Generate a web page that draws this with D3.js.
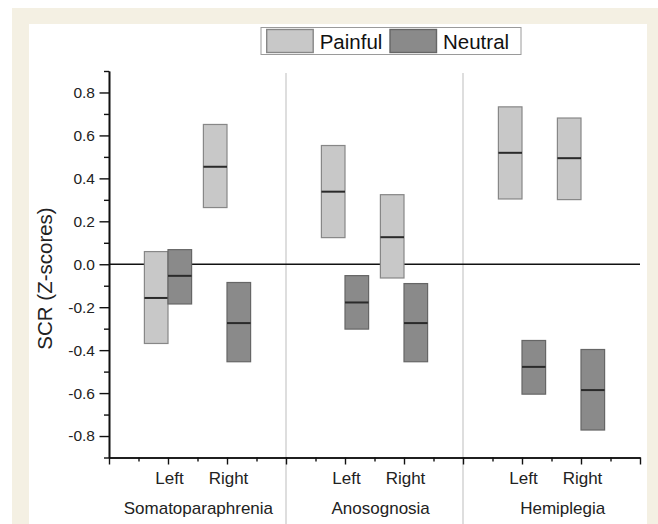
<!DOCTYPE html>
<html>
<head>
<meta charset="utf-8">
<script src="https://cdn.jsdelivr.net/npm/d3@7"></script>
<style>
  html, body { margin: 0; padding: 0; background: #ffffff; }
  svg { display: block; font-family: "Liberation Sans", Arial, sans-serif; }
</style>
</head>
<body>
<svg id="chart" width="658" height="524"></svg>
<script>
// ---- data ----
const groups = ["Somatoparaphrenia", "Anosognosia", "Hemiplegia"];
const sides = ["Left", "Right"];
const seriesNames = ["Painful", "Neutral"];
// order: Soma-Left, Soma-Right, Anos-Left, Anos-Right, Hemi-Left, Hemi-Right
const painfulLow  = [-0.369, 0.264, 0.124, -0.064, 0.304, 0.301];
const painfulMed  = [-0.157, 0.454, 0.338,  0.126, 0.519, 0.494];
const painfulHigh = [ 0.059, 0.651, 0.553,  0.324, 0.733, 0.681];
const neutralLow  = [-0.185, -0.454, -0.302, -0.454, -0.605, -0.772];
const neutralMed  = [-0.054, -0.274, -0.178, -0.274, -0.478, -0.586];
const neutralHigh = [ 0.068, -0.085, -0.053, -0.090, -0.355, -0.397];
const yMajorTicks = [-0.8, -0.6, -0.4, -0.2, 0.0, 0.2, 0.4, 0.6, 0.8];
const yMinorTicks = [-0.9, -0.7, -0.5, -0.3, -0.1, 0.1, 0.3, 0.5, 0.7, 0.9];
const groupLabelPos = [3.03, 9.21, 15.38];

// ---- layout ----
const svg = d3.select("#chart");
const W = 658, H = 524;
svg.append("rect").attr("x", 12).attr("y", 8).attr("width", W - 12).attr("height", H - 8).attr("fill", "#f4f0e3");
svg.append("rect").attr("x", 29).attr("y", 24).attr("width", 647 - 29).attr("height", H - 24).attr("fill", "#ffffff");

const x = d3.scaleLinear().domain([0, 18]).range([109, 640]);
const y = d3.scaleLinear().domain([-0.9, 0.9]).range([457.5, 71]);
const boxW = x(0.8) - x(0);
const fmt = d3.formatLocale({decimal: ".", thousands: ",", grouping: [3], currency: ["", ""], minus: "-"}).format(".1f");

// separators
[6, 12].forEach(v => {
  svg.append("line").attr("x1", x(v)).attr("x2", x(v)).attr("y1", 73).attr("y2", H)
    .attr("stroke", "#bdbdbd").attr("stroke-width", 1);
});

// zero line
svg.append("line").attr("x1", x(0)).attr("x2", x(18)).attr("y1", y(0)).attr("y2", y(0))
  .attr("stroke", "#111").attr("stroke-width", 1.6);

// boxes
const rows = [];
groups.forEach((g, gi) => sides.forEach((s, si) => {
  const k = gi * 2 + si;
  const pos = gi * 6 + 2 + si * 2;
  rows.push({pos, series: "Painful", low: painfulLow[k], med: painfulMed[k], high: painfulHigh[k]});
  rows.push({pos, series: "Neutral", low: neutralLow[k], med: neutralMed[k], high: neutralHigh[k]});
}));
const fills = {Painful: "#c8c8c8", Neutral: "#8a8a8a"};
const strokes = {Painful: "#878787", Neutral: "#666666"};
const bx = d => d.series === "Painful" ? x(d.pos) - boxW : x(d.pos);

const boxes = svg.append("g").selectAll("g").data(rows).enter().append("g");
boxes.append("rect")
  .attr("x", bx).attr("width", boxW)
  .attr("y", d => y(d.high)).attr("height", d => y(d.low) - y(d.high))
  .attr("fill", d => fills[d.series]).attr("stroke", d => strokes[d.series]).attr("stroke-width", 1.2);
boxes.append("line")
  .attr("x1", bx).attr("x2", d => bx(d) + boxW)
  .attr("y1", d => y(d.med)).attr("y2", d => y(d.med))
  .attr("stroke", "#2a2a2a").attr("stroke-width", 2);

// y axis
const yAxisMajor = d3.axisLeft(y).tickValues(yMajorTicks).tickSize(9.5).tickSizeOuter(0).tickPadding(4.5).tickFormat(fmt);
const yAxisMinor = d3.axisLeft(y).tickValues(yMinorTicks).tickSize(5).tickSizeOuter(0).tickFormat("");
const gyMinor = svg.append("g").attr("transform", `translate(${x(0)},0)`).call(yAxisMinor);
const gy = svg.append("g").attr("transform", `translate(${x(0)},0)`).call(yAxisMajor);
[gy, gyMinor].forEach(g => {
  g.selectAll("path").attr("stroke", "#111").attr("stroke-width", 1.6);
  g.selectAll("line").attr("stroke", "#111").attr("stroke-width", 1.4);
});
gy.selectAll("text").attr("font-size", 15.5).attr("fill", "#222").attr("font-family", "Liberation Sans, Arial, sans-serif");

// x axis
const xMajor = d3.range(0, 19, 2);
const xMinor = d3.range(1, 18, 2);
const xAxisMajor = d3.axisBottom(x).tickValues(xMajor).tickSize(7).tickSizeOuter(0).tickFormat("");
const xAxisMinor = d3.axisBottom(x).tickValues(xMinor).tickSize(4).tickSizeOuter(0).tickFormat("");
const gxMinor = svg.append("g").attr("transform", `translate(0,${y(-0.9)})`).call(xAxisMinor);
const gx = svg.append("g").attr("transform", `translate(0,${y(-0.9)})`).call(xAxisMajor);
[gx, gxMinor].forEach(g => {
  g.selectAll("path").attr("stroke", "#111").attr("stroke-width", 1.6);
  g.selectAll("line").attr("stroke", "#111").attr("stroke-width", 1.4);
});

// side labels
groups.forEach((g, gi) => sides.forEach((s, si) => {
  svg.append("text").attr("x", x(gi * 6 + 2 + si * 2) + 1.5).attr("y", 484)
    .attr("text-anchor", "middle").attr("font-size", 17).attr("fill", "#222").text(s);
}));
// group labels
groups.forEach((g, gi) => {
  svg.append("text").attr("x", x(groupLabelPos[gi])).attr("y", 514)
    .attr("text-anchor", "middle").attr("font-size", 17).attr("fill", "#222").text(g);
});

// y title
svg.append("text").attr("transform", "translate(52,278.5) rotate(-90)")
  .attr("text-anchor", "middle").attr("font-size", 20.5).attr("fill", "#222").text("SCR (Z-scores)");

// legend
const lg = svg.append("g");
lg.append("rect").attr("x", 261).attr("y", 27.5).attr("width", 260).attr("height", 27)
  .attr("fill", "#fff").attr("stroke", "#9a9a9a").attr("stroke-width", 1);
const legendX = [266.7, 390];
seriesNames.forEach((s, i) => {
  lg.append("rect").attr("x", legendX[i]).attr("y", 29.5).attr("width", 46.5).attr("height", 23)
    .attr("fill", fills[s]).attr("stroke", strokes[s]).attr("stroke-width", 1.4);
  lg.append("text").attr("x", legendX[i] + 53).attr("y", 48.7)
    .attr("font-size", 20.5).attr("fill", "#111").text(s);
});
</script>
</body>
</html>
